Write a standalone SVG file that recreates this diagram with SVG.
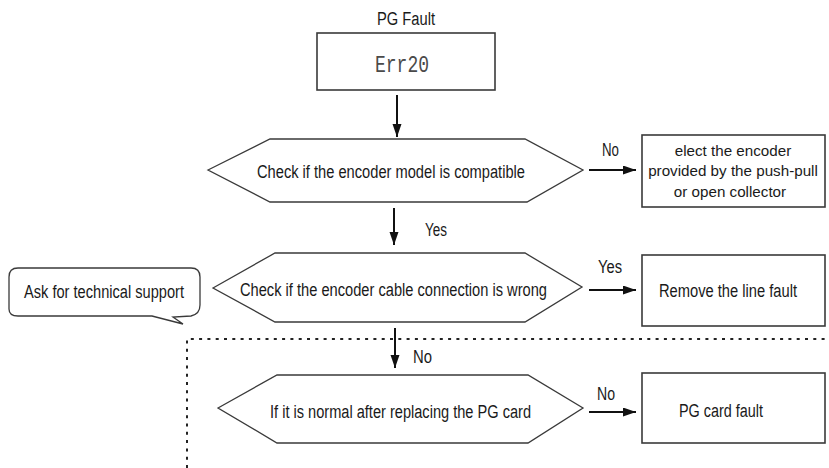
<svg xmlns="http://www.w3.org/2000/svg" width="829" height="468" viewBox="0 0 829 468">
<style>
  .bg{fill:#ffffff}
  .shape{fill:#ffffff;stroke:#3a3a3a;stroke-width:1.3}
  .box{fill:#ffffff;stroke:#3a3a3a;stroke-width:1.6}
  .t{font-family:"Liberation Sans",Arial,sans-serif;font-size:18px;fill:#1a1a1a}
  .s{font-size:15.2px}
  .mono{font-family:"Liberation Mono","Courier New",monospace;font-size:24px;fill:#4a4a4a}
  .arr{stroke:#111;stroke-width:2;fill:none}
  .dot{stroke:#222;stroke-width:2;fill:none;stroke-dasharray:3 5.3}
</style>
<defs>
  <marker id="ah" markerUnits="userSpaceOnUse" markerWidth="14" markerHeight="10" refX="13" refY="4.5" orient="auto">
    <path d="M0,0 L13,4.5 L0,9 Z" fill="#111"/>
  </marker>
</defs>
<rect class="bg" x="0" y="0" width="829" height="468"/>

<g id="border">
  <path class="dot" d="M187,468 L187,339 L829,339"/>
</g>

<g id="n-title">
  <text class="t" x="377" y="25" textLength="58" lengthAdjust="spacingAndGlyphs">PG Fault</text>
</g>
<g id="n-err20">
  <rect class="box" x="317" y="33" width="178" height="57"/>
  <text class="mono" x="375" y="72" textLength="54" lengthAdjust="spacingAndGlyphs">Err20</text>
</g>
<g id="n-check-model">
  <polygon class="shape" points="208,170 270,139 525,139 583,170 527,202 270,202"/>
  <text class="t" x="257" y="178" textLength="268" lengthAdjust="spacingAndGlyphs">Check if the encoder model is compatible</text>
</g>
<g id="n-select">
  <rect class="box" x="642" y="135" width="183" height="72"/>
  <text class="t s" x="733" y="156" text-anchor="middle">elect the encoder</text>
  <text class="t s" x="733" y="176" text-anchor="middle">provided by the push-pull</text>
  <text class="t s" x="730" y="197" text-anchor="middle">or open collector</text>
</g>
<g id="n-check-cable">
  <polygon class="shape" points="213,288 275,253 525,253 582,287 525,322 275,322"/>
  <text class="t" x="240" y="296" textLength="307" lengthAdjust="spacingAndGlyphs">Check if the encoder cable connection is wrong</text>
</g>
<g id="n-support">
  <path class="shape" d="M18,268 Q9,268 9,277 L9,309 Q9,316 18,316 L152,316 L183,324 L173,317 L191,316 Q200,314 200,305 L200,277 Q200,268 191,268 Z"/>
  <text class="t" x="24" y="298" textLength="160" lengthAdjust="spacingAndGlyphs">Ask for technical support</text>
</g>
<g id="n-line-fault">
  <rect class="box" x="642" y="255" width="183" height="71"/>
  <text class="t" x="659" y="297" textLength="138" lengthAdjust="spacingAndGlyphs">Remove the line fault</text>
</g>
<g id="n-replace">
  <polygon class="shape" points="218,408 277,375 528,375 583,408 528,443 277,443"/>
  <text class="t" x="270" y="418" textLength="261" lengthAdjust="spacingAndGlyphs">If it is normal after replacing the PG card</text>
</g>
<g id="n-pg-fault">
  <rect class="box" x="642" y="373" width="183" height="70"/>
  <text class="t" x="679" y="417" textLength="84" lengthAdjust="spacingAndGlyphs">PG card fault</text>
</g>

<g id="connectors">
  <line class="arr" x1="397" y1="95" x2="397" y2="137" marker-end="url(#ah)"/>
  <line class="arr" x1="589" y1="170" x2="636" y2="170" marker-end="url(#ah)"/>
  <text class="t" x="602" y="156" textLength="17" lengthAdjust="spacingAndGlyphs">No</text>
  <line class="arr" x1="394" y1="208" x2="394" y2="245" marker-end="url(#ah)"/>
  <text class="t" x="425" y="236" textLength="22" lengthAdjust="spacingAndGlyphs">Yes</text>
  <line class="arr" x1="589" y1="290" x2="636" y2="290" marker-end="url(#ah)"/>
  <text class="t" x="598" y="273" textLength="24" lengthAdjust="spacingAndGlyphs">Yes</text>
  <line class="arr" x1="395" y1="328" x2="395" y2="368" marker-end="url(#ah)"/>
  <text class="t" x="413" y="363" textLength="19" lengthAdjust="spacingAndGlyphs">No</text>
  <line class="arr" x1="589" y1="412" x2="636" y2="412" marker-end="url(#ah)"/>
  <text class="t" x="597" y="400" textLength="18" lengthAdjust="spacingAndGlyphs">No</text>
</g>
</svg>
